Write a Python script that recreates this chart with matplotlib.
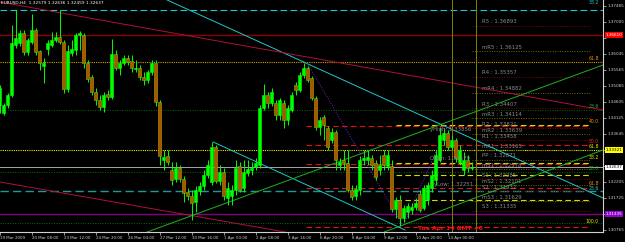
import numpy as np
import matplotlib.pyplot as plt

# EURUSD H4 bars
open_ = [1.3451, 1.3427, 1.3451, 1.3481, 1.3631, 1.3637, 1.3667, 1.3610, 1.3640, 1.3676,
         1.3613, 1.3568, 1.3619, 1.3631, 1.3646, 1.3655, 1.3640, 1.3499, 1.3607, 1.3616,
         1.3661, 1.3661, 1.3577, 1.3535, 1.3490, 1.3466, 1.3445, 1.3484, 1.3475, 1.3604,
         1.3562, 1.3577, 1.3592, 1.3583, 1.3559, 1.3562, 1.3535, 1.3526, 1.3550, 1.3577,
         1.3460, 1.3286, 1.3298, 1.3256, 1.3229, 1.3262, 1.3229, 1.3190, 1.3178, 1.3160,
         1.3193, 1.3208, 1.3241, 1.3220, 1.3325, 1.3223, 1.3250, 1.3172, 1.3178, 1.3196,
         1.3268, 1.3202, 1.3247, 1.3256, 1.3265, 1.3271, 1.3442, 1.3481, 1.3457, 1.3457,
         1.3421, 1.3457, 1.3406, 1.3436, 1.3511, 1.3496, 1.3541, 1.3562, 1.3532, 1.3472,
         1.3385, 1.3415, 1.3382, 1.3346, 1.3370, 1.3271, 1.3286, 1.3277, 1.3196, 1.3178,
         1.3196, 1.3286, 1.3286, 1.3292, 1.3277, 1.3256, 1.3301, 1.3268, 1.3268, 1.3139,
         1.3166, 1.3112, 1.3130, 1.3136, 1.3145, 1.3184, 1.3142, 1.3166, 1.3202, 1.3226,
         1.3286, 1.3346, 1.3367, 1.3325, 1.3346, 1.3280, 1.3256, 1.3286, 1.3262]
high = [1.3511, 1.3457, 1.3487, 1.3691, 1.3736, 1.3676, 1.3676, 1.3652, 1.3724, 1.3682,
        1.3616, 1.3592, 1.3646, 1.3670, 1.3670, 1.3736, 1.3646, 1.3631, 1.3646, 1.3667,
        1.3673, 1.3667, 1.3586, 1.3541, 1.3502, 1.3481, 1.3490, 1.3496, 1.3649, 1.3616,
        1.3586, 1.3601, 1.3601, 1.3601, 1.3586, 1.3571, 1.3550, 1.3556, 1.3586, 1.3586,
        1.3466, 1.3316, 1.3316, 1.3280, 1.3280, 1.3271, 1.3238, 1.3202, 1.3196, 1.3208,
        1.3220, 1.3256, 1.3286, 1.3340, 1.3331, 1.3271, 1.3262, 1.3220, 1.3211, 1.3286,
        1.3280, 1.3286, 1.3286, 1.3280, 1.3292, 1.3451, 1.3514, 1.3490, 1.3502, 1.3466,
        1.3472, 1.3466, 1.3451, 1.3490, 1.3520, 1.3550, 1.3577, 1.3568, 1.3538, 1.3478,
        1.3415, 1.3421, 1.3388, 1.3382, 1.3376, 1.3292, 1.3316, 1.3316, 1.3211, 1.3211,
        1.3298, 1.3316, 1.3316, 1.3301, 1.3286, 1.3301, 1.3316, 1.3316, 1.3286, 1.3175,
        1.3181, 1.3151, 1.3157, 1.3157, 1.3172, 1.3196, 1.3211, 1.3220, 1.3256, 1.3316,
        1.3385, 1.3382, 1.3376, 1.3361, 1.3352, 1.3331, 1.3310, 1.3301, 1.3280]
low = [1.3427, 1.3421, 1.3442, 1.3475, 1.3622, 1.3628, 1.3601, 1.3601, 1.3634, 1.3601,
       1.3556, 1.3517, 1.3601, 1.3625, 1.3640, 1.3634, 1.3487, 1.3490, 1.3598, 1.3601,
       1.3616, 1.3562, 1.3520, 1.3481, 1.3451, 1.3436, 1.3430, 1.3466, 1.3469, 1.3556,
       1.3541, 1.3571, 1.3571, 1.3550, 1.3550, 1.3526, 1.3511, 1.3517, 1.3541, 1.3448,
       1.3271, 1.3256, 1.3271, 1.3211, 1.3220, 1.3220, 1.3160, 1.3166, 1.3106, 1.3130,
       1.3181, 1.3196, 1.3232, 1.3211, 1.3217, 1.3211, 1.3166, 1.3151, 1.3151, 1.3181,
       1.3190, 1.3190, 1.3238, 1.3241, 1.3256, 1.3262, 1.3436, 1.3442, 1.3448, 1.3406,
       1.3406, 1.3382, 1.3391, 1.3430, 1.3481, 1.3490, 1.3532, 1.3520, 1.3466, 1.3376,
       1.3361, 1.3346, 1.3316, 1.3337, 1.3256, 1.3256, 1.3256, 1.3190, 1.3166, 1.3166,
       1.3181, 1.3271, 1.3271, 1.3256, 1.3226, 1.3241, 1.3256, 1.3256, 1.3130, 1.3112,
       1.3088, 1.3100, 1.3112, 1.3124, 1.3136, 1.3130, 1.3136, 1.3151, 1.3190, 1.3211,
       1.3280, 1.3331, 1.3316, 1.3316, 1.3280, 1.3271, 1.3241, 1.3250, 1.3256]
close = [1.3502, 1.3451, 1.3481, 1.3637, 1.3652, 1.3667, 1.3610, 1.3646, 1.3676, 1.3610,
         1.3577, 1.3577, 1.3637, 1.3646, 1.3655, 1.3640, 1.3499, 1.3613, 1.3619, 1.3661,
         1.3667, 1.3577, 1.3529, 1.3490, 1.3466, 1.3445, 1.3481, 1.3475, 1.3604, 1.3562,
         1.3577, 1.3592, 1.3580, 1.3562, 1.3562, 1.3535, 1.3526, 1.3550, 1.3577, 1.3460,
         1.3298, 1.3295, 1.3280, 1.3226, 1.3262, 1.3229, 1.3187, 1.3178, 1.3157, 1.3196,
         1.3208, 1.3241, 1.3271, 1.3325, 1.3223, 1.3250, 1.3178, 1.3202, 1.3196, 1.3262,
         1.3196, 1.3250, 1.3259, 1.3262, 1.3277, 1.3442, 1.3481, 1.3457, 1.3490, 1.3421,
         1.3466, 1.3406, 1.3442, 1.3481, 1.3496, 1.3541, 1.3562, 1.3526, 1.3472, 1.3385,
         1.3406, 1.3391, 1.3325, 1.3370, 1.3286, 1.3280, 1.3277, 1.3196, 1.3175, 1.3199,
         1.3286, 1.3292, 1.3295, 1.3271, 1.3235, 1.3271, 1.3271, 1.3301, 1.3139, 1.3166,
         1.3112, 1.3142, 1.3148, 1.3145, 1.3157, 1.3136, 1.3202, 1.3211, 1.3241, 1.3301,
         1.3361, 1.3367, 1.3325, 1.3346, 1.3292, 1.3316, 1.3286, 1.3262, 1.3264]

time_ticks = [0, 8, 16, 24, 32, 40, 48, 56, 64, 72, 80, 88, 96, 104, 112]
time_labels = ['19 Mar 2009', '20 Mar 08:00', '23 Mar 12:00', '24 Mar 20:00',
               '26 Mar 04:00', '27 Mar 12:00', '30 Mar 16:00', '1 Apr 00:00',
               '2 Apr 08:00', '3 Apr 16:00', '6 Apr 20:00', '8 Apr 04:00',
               '9 Apr 12:00', '10 Apr 20:00', '14 Apr 00:00']

price_ticks = [1.37485, 1.37005, 1.36525, 1.36045, 1.35565, 1.35085, 1.34605,
               1.34125, 1.33645, 1.33165, 1.32685, 1.32205, 1.31725, 1.31245, 1.30765]
# these ones sit under the coloured price boxes
hidden_ticks = [1.36525, 1.33165, 1.32685, 1.31245]

# full-width horizontal levels: price, colour, style, width
levels = [(1.3736, '#1fc8c8', (0, (6, 3)), 0.8),
          (1.3661, '#8b0000', '-', 1.0),
          (1.3580, '#d0a000', (0, (1, 1)), 0.8),
          (1.3436, '#007000', (0, (1, 1.5)), 0.7),
          (1.3316, '#e8e800', (0, (1, 1)), 0.8),
          (1.32637, '#a8a8a8', '-', 0.7),
          (1.3250, '#007000', (0, (1, 1.5)), 0.7),
          (1.3193, '#1a9a9a', (0, (6, 3)), 1.0),
          (1.3124, '#800080', '-', 1.0),
          (1.3097, '#007000', (0, (1, 1.5)), 0.7)]

# red dashed levels from 6 Apr onwards
red_levels = [1.3388, 1.3331, 1.3274, 1.3202, 1.3085]
yellow_levels = [1.3391, 1.3277, 1.3241, 1.3166]

pivot_names = ['R5', 'mR5', 'R4', 'mR4', 'R3', 'mR3', 'R2', 'mR2', 'R1',
               'mR1', 'PP', 'mS1', 'S1', 'mS2', 'S2', 'mS3', 'S3']
pivot_values = [1.36893, 1.36125, 1.35357, 1.34882, 1.34407, 1.34114, 1.33821, 1.33639,
                1.33458, 1.33165, 1.32871, 1.32578, 1.32285, 1.32101, 1.31932, 1.31629,
                1.31335]

# trend lines: (t0, p0, t1, p1, colour, style)
trend_lines = [(41.8, 1.3766, 150.8, 1.3172, '#1fc8c8', '-'),
               (53.3, 1.3340, 101.3, 1.3076, '#1fc8c8', '-'),
               (0.0, 1.3760, 150.8, 1.3436, '#b0103c', '-'),
               (0.0, 1.3220, 71.3, 1.3070, '#b0103c', '-'),
               (36.8, 1.3070, 150.8, 1.3571, '#20b020', '-'),
               (96.1, 1.3070, 150.8, 1.3316, '#20b020', '-'),
               (76.8, 1.3577, 100.8, 1.3088, '#7a1fd0', ':'),
               (100.8, 1.3088, 111.8, 1.3385, '#7a1fd0', ':')]

fig = plt.figure(figsize=(6.25, 2.42), dpi=100, facecolor='black')
ax = fig.add_axes([0, 10 / 242, 603 / 625, 232 / 242], facecolor='black')
ax.set_xlim(0.075, 150.8)
ax.set_ylim(1.3070, 1.3766)

for p, c, ls, lw in levels:
    ax.axhline(p, color=c, ls=ls, lw=lw, zorder=1)
ax.hlines(red_levels, 76.6, 147.6, colors='#e01010', linestyles=(0, (5, 3)), lw=0.8, zorder=1)
ax.hlines(yellow_levels, 99, 147.6, colors='#d8d800', linestyles=(0, (5, 3)), lw=0.8, zorder=1)
for name, v in zip(pivot_names, pivot_values):
    c = '#800000' if name[0] in 'RS' else '#6b6b00'
    ax.hlines(v, 118, 147.6, colors=c, linestyles=(0, (1, 1.5)), lw=0.7, zorder=1)
    ax.text(120.5, v + 0.0004, f'{name} : {v:.5f}', color='#8a8a8a', fontsize=3.9,
            va='bottom', zorder=2)

for t0, p0, t1, p1, c, ls in trend_lines:
    ax.plot([t0, t1], [p0, p1], color=c, ls=ls, lw=0.7, zorder=2)

ax.axvline(113.1, color='#808000', lw=0.7, zorder=2)
ax.axvline(119.1, color='#808000', lw=0.7, zorder=2)

t = np.arange(len(close))
o = np.array(open_)
c = np.array(close)
up = c >= o
ax.vlines(t, low, high, color='#00ff00', lw=0.7, zorder=3)
ax.bar(t[up], (c - o)[up], bottom=o[up], width=0.75, color='#00ff00',
       edgecolor='#00ff00', lw=0.4, zorder=4)
ax.bar(t[~up], (c - o)[~up], bottom=o[~up], width=0.75, color='#ff2a00',
       edgecolor='#00ff00', lw=0.4, zorder=4)

ax.text(0.3, 1.3763, 'EURUSD,H4  1.32579 1.32636 1.32459 1.32637', color='white',
        fontsize=3.1, va='top', zorder=6)
ax.text(107.5, 1.3372, 'yHigh: 1.33856', color='#8a8a8a', fontsize=3.9, zorder=5)
ax.text(107.5, 1.3287, 'Open: 1.32579', color='#8a8a8a', fontsize=3.9, zorder=5)
ax.text(108.5, 1.3208, 'yLow: 1.32251', color='#8a8a8a', fontsize=3.9, zorder=5)
ax.text(104.5, 1.3076, 'Tue Apr 14 GMT +0', color='#ff1010', fontsize=4.3,
        fontweight='bold', zorder=6)

fib_labels = [('38.2', 1.3751, '#1fc8c8'), ('61.8', 1.3584, '#ff8c00'),
              ('23.6', 1.3440, '#20b020'), ('40.0', 1.3395, '#ff8c00'),
              ('50.0', 1.3333, '#ff2020'), ('61.8', 1.3318, '#e8e800'),
              ('38.2', 1.3285, '#e8e800'), ('50.0', 1.3252, '#20b020'),
              ('61.8', 1.3209, '#ff8c00'), ('23.6', 1.3194, '#1fc8c8'),
              ('100.0', 1.3095, '#e8e800')]
for s, p, col in fib_labels:
    ax.text(149.8, p, s, color=col, fontsize=3.3, ha='right', va='bottom', zorder=5)

ax.yaxis.tick_right()
ax.set_yticks(price_ticks)
ax.set_yticklabels(['' if p in hidden_ticks else f'{p:.5f}' for p in price_ticks])
ax.set_xticks(time_ticks)
ax.set_xticklabels(time_labels, ha='left')
ax.tick_params(axis='y', colors='#d0d0d0', labelsize=3.0, length=2, width=0.5, pad=1.5)
ax.tick_params(axis='x', colors='#d0d0d0', labelsize=2.9, length=2, width=0.5, pad=1)
for s in ['top', 'left']:
    ax.spines[s].set_visible(False)
for s in ['bottom', 'right']:
    ax.spines[s].set_color('#d0d0d0')
    ax.spines[s].set_linewidth(0.8)

# price boxes on the right axis
boxes = [(1.3661, '1.36610', '#ff0000', 'white'), (1.3316, '1.33321', '#ffff00', 'black'),
         (1.32637, '1.32637', '#ffffff', 'black'), (1.3124, '1.31335', '#9400d3', 'white')]
for p, s, bg, fg in boxes:
    ax.annotate(s, xy=(1.0, p), xycoords=('axes fraction', 'data'), xytext=(2, 0),
                textcoords='offset points', color=fg, fontsize=3.0, va='center',
                bbox=dict(boxstyle='square,pad=0.15', fc=bg, ec='none'),
                annotation_clip=False, zorder=7)

fig.savefig('out.png', dpi=100, facecolor='black')
